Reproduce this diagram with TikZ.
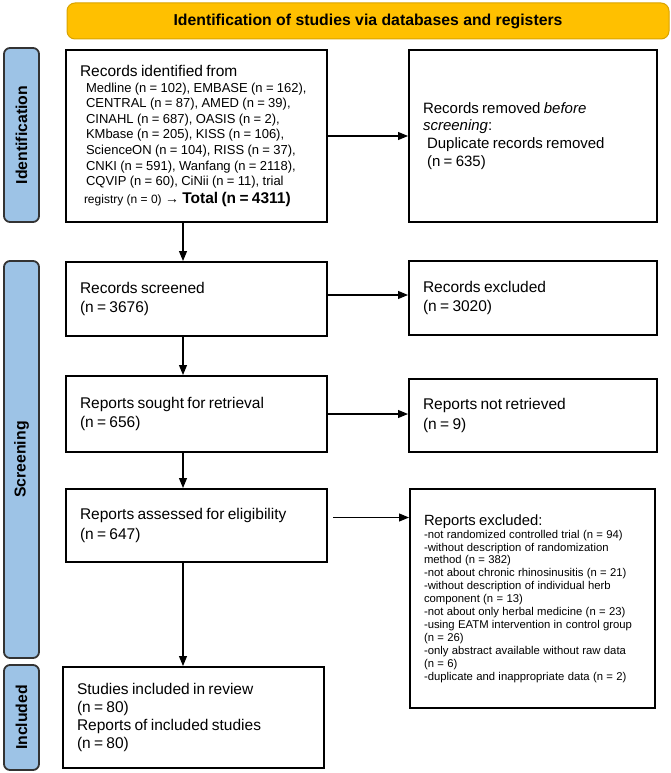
\documentclass[tikz,border=0pt]{standalone}
\usepackage{fontspec}
\setmainfont{Liberation Sans}
\usetikzlibrary{arrows.meta}
\definecolor{gold}{HTML}{FFC000}
\definecolor{goldline}{HTML}{D9A300}
\definecolor{lblue}{HTML}{9DC3E6}
\definecolor{lborder}{HTML}{333333}
\newcommand\fsz[2]{\fontsize{#1}{#2}\selectfont}
\begin{document}
\begin{tikzpicture}[x=1pt,y=-1pt,
  box/.style={draw=black, line width=2pt, fill=white, inner xsep=14pt, inner ysep=0pt, align=left, anchor=center, execute at begin node={\parskip=0pt}},
  side/.style={draw=lborder, line width=1.8pt, fill=lblue, rounded corners=6pt, inner sep=0pt, anchor=center, rotate=90, minimum height=35pt, font=\bfseries\fsz{15.8}{18}},
  banner/.style={draw=goldline, line width=1pt, fill=gold, rounded corners=8pt, inner sep=0pt, anchor=center, minimum width=602pt, minimum height=36pt, font=\bfseries\fsz{15.8}{18}},
  arr/.style={line width=1.1pt, -{Triangle[length=10pt,width=8pt]}},
]
\useasboundingbox (0,0) rectangle (671,773);

\node[banner] (banner) at (368,21) {Identification of studies via databases and registers};

\node[side, minimum width=174pt] (idlab) at (21.5,135) {Identification};
\node[side, minimum width=397pt] (sclab) at (21.5,459.5) {Screening};
\node[side, minimum width=105pt] (inlab) at (21.5,717.5) {Included};

\node[box, text width=233pt, minimum height=172pt] (box1) at (196.5,136) {%
\fsz{15.5}{18}Records identified from\par
\fsz{13}{15.6}\leftskip=6pt Medline (n = 102), EMBASE (n = 162),\\
CENTRAL (n = 87), AMED (n = 39),\\
CINAHL (n = 687), OASIS (n = 2),\\
KMbase (n = 205), KISS (n = 106),\\
ScienceON (n = 104), RISS (n = 37),\\
CNKI (n = 591), Wanfang (n = 2118),\\
CQVIP (n = 60), CiNii (n = 11), trial\par
\fsz{12}{18}\leftskip=4pt registry (n = 0) {\fsz{14}{18}→} {\bfseries\fsz{15.5}{18}Total (n = 4311)}\par};

\node[box, text width=220pt, minimum height=172pt] (removed) at (533,136) {%
\fsz{15}{17.8}Records removed \textit{before}\\
\textit{screening}:\\
\hspace*{4pt}Duplicate records removed\\
\hspace*{4pt}(n = 635)\par};

\node[box, text width=233pt, minimum height=74pt] (screened) at (196.5,299) {%
\fsz{15.5}{19.5}Records screened\\(n = 3676)\par};
\node[box, text width=220pt, minimum height=74pt] (excluded) at (533,298) {%
\fsz{15.5}{19.5}Records excluded\\(n = 3020)\par};

\node[box, text width=233pt, minimum height=76pt] (sought) at (196.5,414) {%
\fsz{15.5}{19.5}Reports sought for retrieval\\(n = 656)\par};
\node[box, text width=220pt, minimum height=73pt] (notretr) at (533,415.5) {%
\fsz{15.5}{19.5}Reports not retrieved\\(n = 9)\par};

\node[box, text width=233pt, minimum height=73pt] (assessed) at (196.5,525.5) {%
\fsz{15.5}{19.5}Reports assessed for eligibility\\(n = 647)\par};
\node[box, text width=217pt, minimum height=219pt] (repexcl) at (532.5,598.5) {%
\fsz{14.8}{17}Reports excluded:\par
\fsz{11.3}{12.9}-not randomized controlled trial (n = 94)\\
-without description of randomization\\
method (n = 382)\\
-not about chronic rhinosinusitis (n = 21)\\
-without description of individual herb\\
component (n = 13)\\
-not about only herbal medicine (n = 23)\\
-using EATM intervention in control group\\
(n = 26)\\
-only abstract available without raw data\\
(n = 6)\\
-duplicate and inappropriate data (n = 2)\par};

\node[box, text width=233pt, minimum height=101pt] (included) at (193.5,717.5) {%
\fsz{15.5}{18.3}Studies included in review\\(n = 80)\\Reports of included studies\\(n = 80)\par};

\coordinate (vx) at (183,0);
\draw[arr] (box1.south -| vx) -- (screened.north -| vx);
\draw[arr] (screened.south -| vx) -- (sought.north -| vx);
\draw[arr] (sought.south -| vx) -- (assessed.north -| vx);
\draw[arr] (assessed.south -| vx) -- (included.north -| vx);

\draw[arr] (box1.east) -- (removed.west);
\coordinate (h2) at ([yshift=4pt]screened.east);
\draw[arr] (h2) -- (h2 -| excluded.west);
\draw[arr] (sought.east) -- (sought.east -| notretr.west);
\coordinate (h4) at ([xshift=5pt,yshift=8pt]assessed.east);
\draw[arr] (h4) -- (h4 -| repexcl.west);
\end{tikzpicture}
\end{document}
